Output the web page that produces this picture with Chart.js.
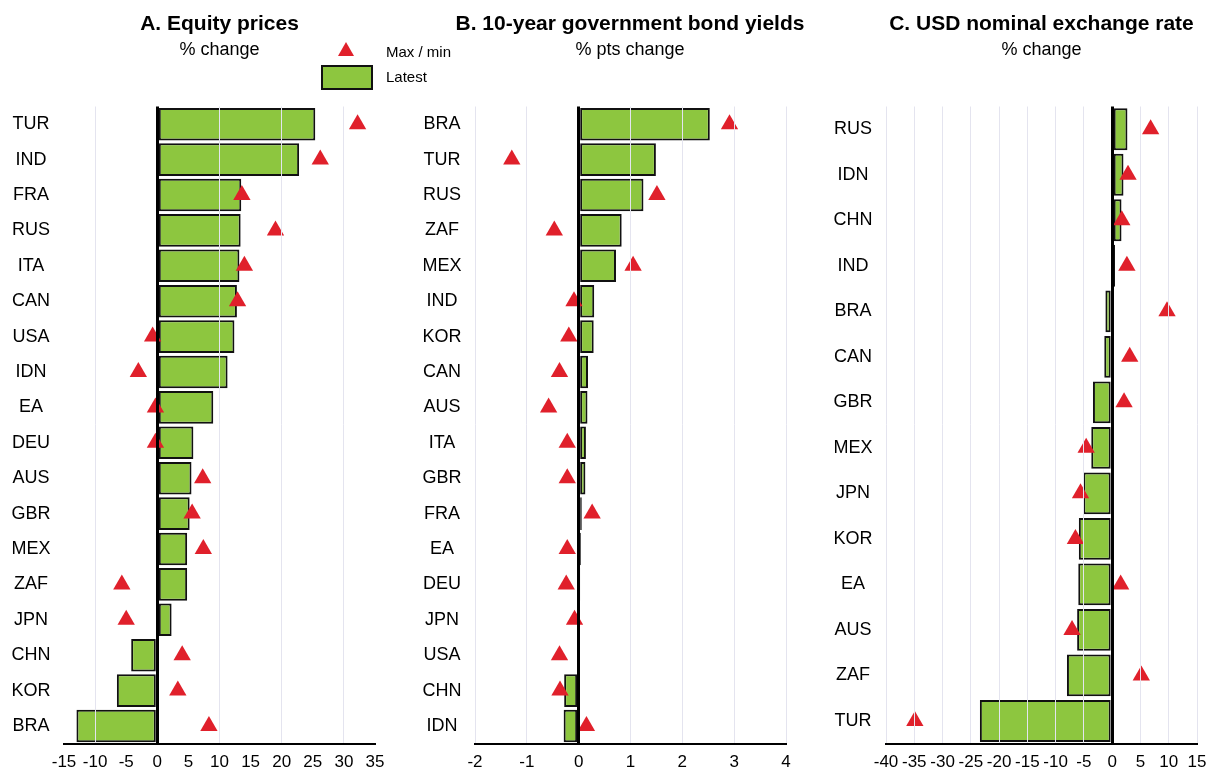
<!DOCTYPE html>
<html>
<head>
<meta charset="utf-8">
<script src="https://cdn.jsdelivr.net/npm/chart.js@4/dist/chart.umd.min.js"></script>
<style>
  body { margin: 0; background: #fff; font-family: "Liberation Sans", Arial, sans-serif; overflow: hidden; }
  #wrap { position: relative; width: 1208px; height: 768px; overflow: hidden; }
  .panel { position: absolute; top: 0; height: 768px; }
  #legend .txt { position: absolute; left: 386px; font-size: 15px; line-height: 20px; color: #000; }
  #legend .tri { position: absolute; left: 338px; top: 42px; width: 0; height: 0;
    border-left: 8.5px solid transparent; border-right: 8.5px solid transparent; border-bottom: 14px solid #e0202b; }
  #legend .box { position: absolute; left: 321px; top: 65px; width: 52px; height: 25px; box-sizing: border-box;
    background: #8dc63f; border: 2px solid #111; }
</style>
</head>
<body>
<div id="wrap">
  <div class="panel" style="left:0;width:439px"><canvas id="chartA"></canvas></div>
  <div class="panel" style="left:400px;width:460px"><canvas id="chartB"></canvas></div>
  <div class="panel" style="left:830px;width:423px"><canvas id="chartC"></canvas></div>
  <div id="legend">
    <div class="tri"></div>
    <div class="txt" style="top:42px">Max / min</div>
    <div class="box"></div>
    <div class="txt" style="top:67px">Latest</div>
  </div>
</div>
<script>
// A. Equity prices
var catsA = ['TUR','IND','FRA','RUS','ITA','CAN','USA','IDN','EA','DEU','AUS','GBR','MEX','ZAF','JPN','CHN','KOR','BRA'];
var latestA = [25.4, 22.8, 13.5, 13.4, 13.2, 12.8, 12.4, 11.3, 9.0, 5.8, 5.5, 5.2, 4.8, 4.8, 2.3, -4.2, -6.5, -13.0];
var maxMinA = [32.2, 26.2, 13.6, 19.0, 14.0, 12.9, -0.75, -3.05, -0.3, -0.3, 7.3, 5.6, 7.4, -5.7, -5.0, 4.0, 3.3, 8.3];

// B. 10-year government bond yields
var catsB = ['BRA','TUR','RUS','ZAF','MEX','IND','KOR','CAN','AUS','ITA','GBR','FRA','EA','DEU','JPN','USA','CHN','IDN'];
var latestB = [2.53, 1.49, 1.25, 0.83, 0.72, 0.30, 0.29, 0.18, 0.17, 0.14, 0.13, 0.06, 0.045, 0.02, 0, 0, -0.28, -0.29];
var maxMinB = [2.91, -1.29, 1.51, -0.47, 1.05, -0.09, -0.19, -0.37, -0.58, -0.22, -0.22, 0.26, -0.22, -0.24, -0.08, -0.37, -0.36, 0.15];

// C. USD nominal exchange rate
var catsC = ['RUS','IDN','CHN','IND','BRA','CAN','GBR','MEX','JPN','KOR','EA','AUS','ZAF','TUR'];
var latestC = [2.7, 2.0, 1.65, 0.5, -1.2, -1.4, -3.4, -3.7, -5.1, -5.9, -6.0, -6.2, -8.0, -23.4];
var maxMinC = [6.8, 2.8, 1.7, 2.6, 9.7, 3.1, 2.1, -4.6, -5.6, -6.5, 1.5, -7.1, 5.15, -34.9];

var GREEN = '#8dc63f';
var RED = '#e0202b';
var GRID = '#e4e4ef';
var FONT = '"Liberation Sans", Arial, sans-serif';

function drawPanel(canvasID, title, subtitle, cats, latest, maxMin, xr, opts){

    var ctx = document.getElementById(canvasID);

    var config = {
        type: 'bar',
        data: {
            labels: cats,
            datasets: [
                {
                    type: 'line',
                    label: 'Max / min',
                    data: maxMin,
                    indexAxis: 'y',
                    showLine: false,
                    pointStyle: 'triangle',
                    pointRadius: 10,
                    pointBackgroundColor: RED,
                    pointBorderWidth: 0,
                    order: 1
                },
                {
                    label: 'Latest',
                    data: latest,
                    indexAxis: 'y',
                    backgroundColor: GREEN,
                    borderColor: '#111',
                    borderWidth: 2,
                    borderSkipped: false,
                    barPercentage: 0.92,
                    categoryPercentage: 1,
                    order: 2
                }
            ]
        },
        options: {
            indexAxis: 'y',
            responsive: true,
            maintainAspectRatio: false,
            animation: false,
            events: [],
            layout: { padding: 0 },
            plugins: {
                legend: { display: false },
                tooltip: { enabled: false },
                title: {
                    display: true,
                    text: title,
                    color: '#000',
                    font: { family: FONT, size: 21, weight: 'bold' },
                    padding: { top: 11.4, bottom: 0 }
                },
                subtitle: {
                    display: true,
                    text: subtitle,
                    color: '#000',
                    font: { family: FONT, size: 18 },
                    padding: { top: 2.6, bottom: 45.7 }
                }
            },
            scales: {
                x: {
                    type: 'linear',
                    min: xr[0],
                    max: xr[1],
                    afterFit: function(scale){ scale.height = 23.5; },
                    border: { display: true, color: '#000', width: 2, z: 1 },
                    grid: {
                        z: 1,
                        drawTicks: false,
                        color: function(c){
                            if (c.tick.value === 0) return '#000';
                            if (c.tick.value % opts.gridStep !== 0) return 'rgba(0,0,0,0)';
                            return GRID;
                        },
                        lineWidth: function(c){ return c.tick.value === 0 ? 3 : 1; }
                    },
                    ticks: {
                        stepSize: opts.step,
                        autoSkip: false,
                        maxRotation: 0,
                        minRotation: 0,
                        padding: 8,
                        color: '#000',
                        font: { family: FONT, size: 17 },
                        callback: function(v){ return String(v); }
                    }
                },
                y: {
                    type: 'category',
                    afterFit: function(scale){ scale.width = opts.yWidth; },
                    border: { display: false },
                    grid: { display: false, drawTicks: false },
                    ticks: {
                        crossAlign: 'center',
                        padding: 13.5,
                        color: '#000',
                        font: { family: FONT, size: 18 }
                    }
                },
                // empty right-hand axis: keeps the plot centred under the titles
                yRight: {
                    type: 'category',
                    position: 'right',
                    afterFit: function(scale){ scale.width = opts.rightWidth; },
                    border: { display: false },
                    grid: { display: false, drawTicks: false },
                    ticks: { display: false }
                }
            }
        }
    };
    new Chart(ctx, config);
}

drawPanel('chartA', 'A. Equity prices', '% change', catsA, latestA, maxMinA, [-15, 35],
    { step: 5, gridStep: 10, yWidth: 64, rightWidth: 64 });
drawPanel('chartB', 'B. 10-year government bond yields', '% pts change', catsB, latestB, maxMinB, [-2, 4],
    { step: 1, gridStep: 1, yWidth: 75, rightWidth: 74 });
drawPanel('chartC', 'C. USD nominal exchange rate', '% change', catsC, latestC, maxMinC, [-40, 15],
    { step: 5, gridStep: 5, yWidth: 56, rightWidth: 56 });
</script>
</body>
</html>
